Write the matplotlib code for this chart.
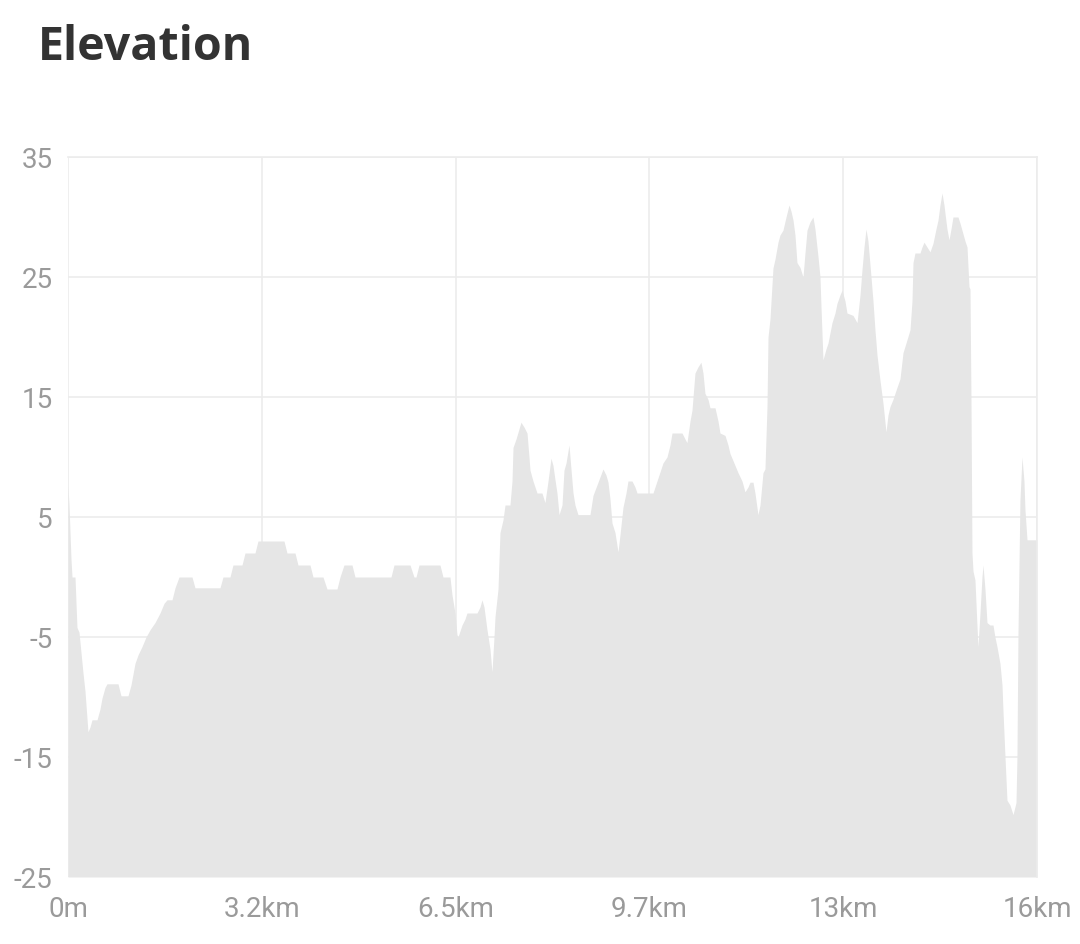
import matplotlib
matplotlib.use("Agg")
import matplotlib.pyplot as plt
from matplotlib.ticker import FixedLocator

# distance along route (km) and elevation (m)
distance_km = [
    0.000, 0.017, 0.050, 0.067, 0.117, 0.150, 0.184, 0.251, 0.284, 0.334,
    0.368, 0.401, 0.485, 0.535, 0.568, 0.619, 0.652, 0.836, 0.886, 1.003,
    1.053, 1.120, 1.170, 1.237, 1.304, 1.371, 1.454, 1.538, 1.605, 1.655,
    1.739, 1.789, 1.856, 2.073, 2.123, 2.541, 2.591, 2.708, 2.758, 2.909,
    2.959, 3.126, 3.176, 3.611, 3.661, 3.795, 3.845, 4.046, 4.096, 4.263,
    4.330, 4.497, 4.547, 4.614, 4.748, 4.798, 5.400, 5.450, 5.718, 5.784,
    5.818, 5.868, 6.219, 6.269, 6.386, 6.420, 6.470, 6.503, 6.520, 6.587,
    6.637, 6.670, 6.838, 6.888, 6.921, 6.955, 7.005, 7.055, 7.088, 7.122,
    7.139, 7.189, 7.222, 7.272, 7.306, 7.389, 7.423, 7.440, 7.490, 7.573,
    7.623, 7.674, 7.707, 7.724, 7.774, 7.841, 7.924, 7.974, 8.025, 8.075,
    8.108, 8.142, 8.175, 8.209, 8.259, 8.292, 8.326, 8.376, 8.409, 8.443,
    8.476, 8.526, 8.727, 8.777, 8.861, 8.944, 8.994, 9.028, 9.061, 9.095,
    9.145, 9.195, 9.228, 9.278, 9.329, 9.362, 9.429, 9.479, 9.513, 9.780,
    9.847, 9.897, 9.947, 10.014, 10.064, 10.098, 10.265, 10.315, 10.348, 10.399,
    10.432, 10.482, 10.532, 10.582, 10.616, 10.649, 10.700, 10.733, 10.817, 10.867,
    10.900, 10.984, 11.034, 11.067, 11.134, 11.201, 11.268, 11.318, 11.368, 11.402,
    11.452, 11.485, 11.535, 11.569, 11.619, 11.652, 11.686, 11.703, 11.736, 11.786,
    11.820, 11.870, 11.903, 11.953, 12.004, 12.054, 12.087, 12.121, 12.154, 12.187,
    12.238, 12.288, 12.321, 12.355, 12.405, 12.455, 12.488, 12.539, 12.572, 12.589,
    12.622, 12.672, 12.706, 12.773, 12.823, 12.856, 12.906, 12.940, 12.990, 13.023,
    13.124, 13.191, 13.241, 13.274, 13.308, 13.341, 13.374, 13.425, 13.458, 13.491,
    13.525, 13.575, 13.625, 13.675, 13.709, 13.742, 13.792, 13.859, 13.909, 13.960,
    14.010, 14.077, 14.110, 14.127, 14.160, 14.244, 14.277, 14.311, 14.361, 14.411,
    14.461, 14.511, 14.545, 14.578, 14.612, 14.645, 14.662, 14.695, 14.729, 14.762,
    14.795, 14.879, 14.912, 14.946, 14.996, 15.030, 15.063, 15.080, 15.096, 15.113,
    15.130, 15.163, 15.196, 15.213, 15.247, 15.280, 15.297, 15.330, 15.364, 15.414,
    15.464, 15.497, 15.531, 15.581, 15.615, 15.631, 15.665, 15.698, 15.748, 15.799,
    15.849, 15.865, 15.882, 15.915, 15.949, 15.982, 15.999, 16.033, 16.200,
]

elevation_m = [
    7.5, 6.0, 1.5, 0.0, 0.0, -4.2, -4.6, -8.0, -9.5, -12.9,
    -12.5, -11.9, -11.9, -11.0, -10.1, -9.2, -8.9, -8.9, -9.9, -9.9,
    -9.0, -7.2, -6.5, -5.8, -5.0, -4.4, -3.8, -3.0, -2.2, -1.9,
    -1.9, -0.9, 0.0, 0.0, -0.9, -0.9, 0.0, 0.0, 1.0, 1.0,
    2.0, 2.0, 3.0, 3.0, 2.0, 2.0, 1.0, 1.0, 0.0, 0.0,
    -1.0, -1.0, 0.0, 1.0, 1.0, 0.0, 0.0, 1.0, 1.0, 0.0,
    0.0, 1.0, 1.0, 0.0, 0.0, -1.5, -3.0, -4.8, -5.0, -4.0,
    -3.5, -3.0, -3.0, -2.5, -1.9, -2.5, -4.4, -6.0, -7.9, -5.0,
    -3.3, -1.0, 3.7, 4.75, 6.0, 6.0, 8.0, 10.8, 11.5, 12.9,
    12.5, 12.0, 10.0, 8.9, 8.0, 7.0, 7.0, 6.2, 8.0, 9.9,
    9.3, 8.1, 7.0, 5.2, 6.0, 8.9, 9.5, 11.0, 9.0, 7.0,
    6.0, 5.2, 5.2, 6.8, 7.9, 9.0, 8.5, 7.9, 6.5, 4.5,
    3.7, 2.1, 3.5, 5.8, 7.0, 8.0, 8.0, 7.5, 7.0, 7.0,
    8.0, 8.75, 9.5, 10.0, 11.0, 12.0, 12.0, 11.5, 11.2, 13.0,
    13.9, 17.0, 17.5, 17.9, 17.0, 15.3, 14.8, 14.1, 14.1, 13.0,
    12.0, 11.8, 11.0, 10.3, 9.5, 8.7, 8.0, 7.1, 7.5, 7.9,
    7.9, 7.0, 5.2, 6.0, 8.7, 9.0, 14.2, 20.0, 21.5, 25.75,
    26.5, 27.9, 28.5, 28.9, 30.0, 31.0, 30.5, 29.75, 28.5, 26.2,
    25.8, 25.0, 27.0, 28.9, 29.6, 30.0, 29.0, 26.7, 25.0, 22.5,
    18.1, 19.0, 19.5, 21.2, 22.0, 22.8, 23.5, 23.9, 23.0, 22.0,
    21.8, 21.2, 23.5, 25.6, 27.5, 29.0, 28.0, 25.0, 23.0, 20.6,
    18.5, 16.4, 14.5, 12.1, 13.5, 14.2, 14.8, 15.8, 16.5, 18.7,
    19.5, 20.6, 23.0, 26.2, 27.0, 27.0, 27.5, 27.9, 27.5, 27.1,
    27.8, 29.0, 29.75, 31.0, 32.0, 31.0, 30.3, 29.0, 28.1, 29.0,
    30.0, 30.0, 29.5, 28.9, 28.0, 27.5, 24.2, 24.0, 15.0, 2.0,
    0.5, -0.25, -4.0, -5.8, -3.0, 0.0, 1.0, -1.0, -3.8, -4.0,
    -4.0, -5.0, -5.8, -7.2, -9.0, -11.1, -15.0, -18.6, -19.0, -19.8,
    -18.8, -15.0, -4.7, 6.4, 10.0, 8.0, 5.6, 3.1, 3.1,
]

x_ticks_km = [0.0, 3.24, 6.48, 9.72, 12.96, 16.2]
x_tick_labels = ["0m", "3.2km", "6.5km", "9.7km", "13km", "16km"]
y_ticks = [-25, -15, -5, 5, 15, 25, 35]

fig = plt.figure(figsize=(10.8, 9.44), dpi=100)
ax = fig.add_axes([68 / 1080, 67 / 944, 969 / 1080, 720 / 944])

grid_color = "#ececec"
ax.fill_between(distance_km, elevation_m, -25, color="#e6e6e6", linewidth=0, zorder=2)

ax.set_xlim(0, 16.2)
ax.set_ylim(-25, 35)
ax.xaxis.set_major_locator(FixedLocator(x_ticks_km))
ax.set_xticklabels(x_tick_labels)
ax.yaxis.set_major_locator(FixedLocator(y_ticks))
ax.set_yticklabels([str(v) for v in y_ticks])

ax.grid(True, color=grid_color, linewidth=1.2, zorder=1)
ax.set_axisbelow(True)
for side in ["left", "bottom"]:
    ax.spines[side].set_visible(False)
for side in ["top", "right"]:
    ax.spines[side].set_color(grid_color)
    ax.spines[side].set_linewidth(1.2)

ax.tick_params(axis="both", length=0, colors="#9a9a9a", labelsize=20)
ax.tick_params(axis="x", pad=14)
ax.tick_params(axis="y", pad=11)
for lab in ax.get_xticklabels() + ax.get_yticklabels():
    lab.set_fontfamily("Roboto")

fig.text(38 / 1080, 1 - 60 / 944, "Elevation", fontsize=33.5, fontweight="bold",
         color="#333333", family="Open Sans", ha="left", va="baseline")

fig.savefig("out.png", dpi=100, facecolor="white")
